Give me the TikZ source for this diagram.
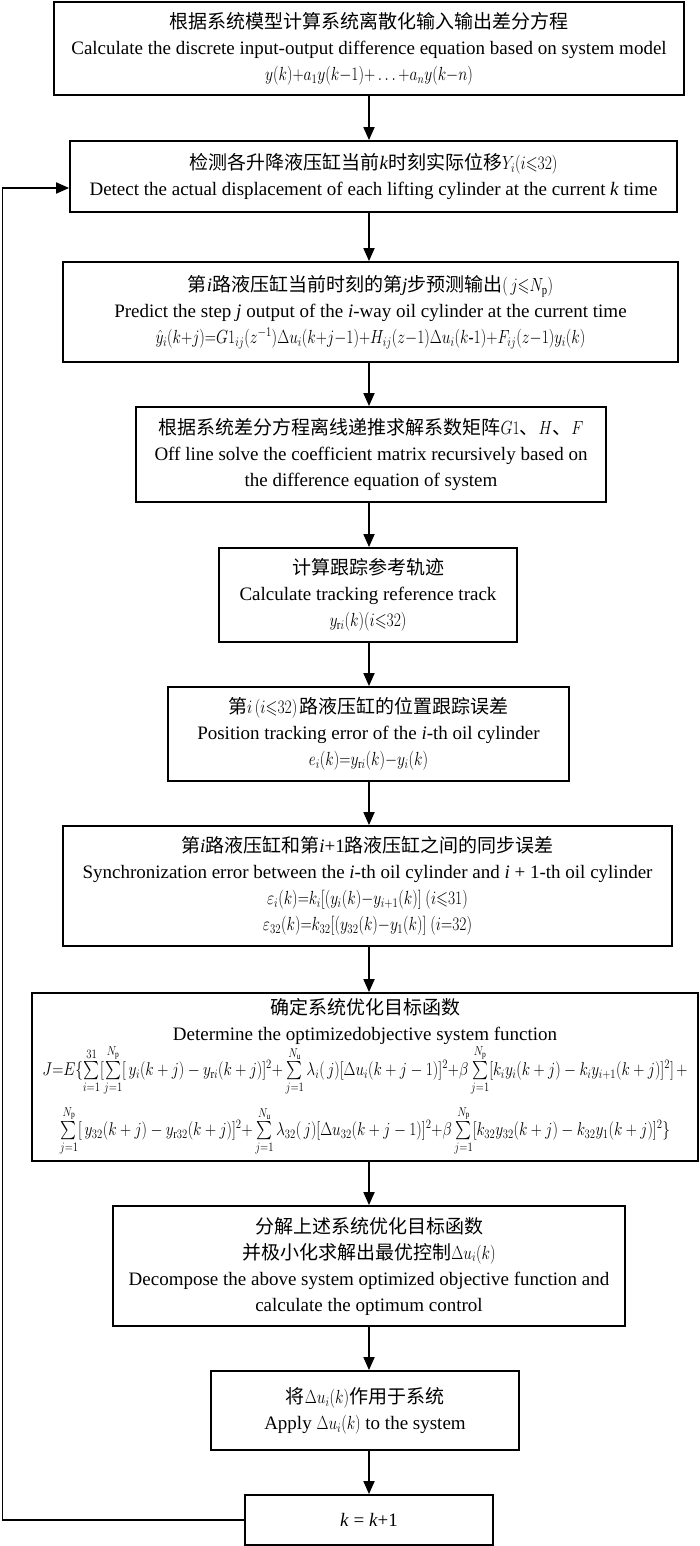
\documentclass[tikz,border=0pt]{standalone}
\usepackage{amsmath}
\usepackage{amssymb}
\usepackage{graphicx}
\usepackage{fontspec}
\setmainfont{Liberation Serif}
\newfontfamily\cjk{Noto Sans CJK SC}
\usetikzlibrary{arrows.meta}
\newcommand{\zh}[1]{{\cjk #1}}
\newcommand{\fm}[1]{\scalebox{0.9}[1.1]{\fontsize{17}{26}\selectfont$#1$}}
\begin{document}
\begin{tikzpicture}[x=1pt,y=-1pt,
  box/.style={draw, line width=1.8pt, align=center, inner sep=0pt,
    font=\fontsize{19}{26}\selectfont},
  arr/.style={line width=1.8pt, -{Triangle[length=13pt,width=11pt]}}]
\useasboundingbox (0,0) rectangle (700,1546);
\coordinate (ax) at (369,0);

\node[box, minimum width=630pt, minimum height=93pt] (b1) at (369,48.5)
 {\zh{根据系统模型计算系统离散化输入输出差分方程}\\
  Calculate the discrete input-output difference equation based on system model\\
  \fm{y(k){+}a_1y(k{-}1){+}\ldots{+}a_ny(k{-}n)}};

\node[box, minimum width=607pt, minimum height=71pt] (b2) at (373.5,176.5)
 {\zh{检测各升降液压缸当前}\textit{k}\zh{时刻实际位移}\fm{Y_i(i{\leqslant}32)}\\
  Detect the actual displacement of each lifting cylinder at the current \textit{k} time};

\node[box, minimum width=615pt, minimum height=100pt] (b3) at (370.5,312)
 {\zh{第}\textit{i}\zh{路液压缸当前时刻的第}\textit{j}\zh{步预测输出}\fm{(\,j{\leqslant}N_\mathrm{p})}\\
  Predict the step \textit{j} output of the \textit{i}-way oil cylinder at the current time\\
  \fm{\hat y_i(k{+}j){=}G1_{ij}(z^{-1})\Delta u_i(k{+}j{-}1){+}H_{ij}(z{-}1)\Delta u_i(k\text{-}1){+}F_{ij}(z{-}1)y_i(k)}};

\node[box, minimum width=470pt, minimum height=95pt] (b4) at (371,454.5)
 {\zh{根据系统差分方程离线递推求解系数矩阵}\fm{G1}\zh{、}\fm{H}\zh{、}\fm{F}\\
  Off line solve the coefficient matrix recursively based on\\
  the difference equation of system};

\node[box, minimum width=298pt, minimum height=94pt] (b5) at (368,595)
 {\zh{计算跟踪参考轨迹}\\
  Calculate tracking reference track\\
  \fm{y_{\mathrm{r}i}(k)(i{\leqslant}32)}};

\node[box, minimum width=401pt, minimum height=94pt] (b6) at (368.5,734)
 {\zh{第}\fm{i\,(i{\leqslant}32)\,}\zh{路液压缸的位置跟踪误差}\\
  Position tracking error of the \textit{i}-th oil cylinder\\
  \fm{e_i(k){=}y_{\mathrm{r}i}(k){-}y_i(k)}};

\node[box, minimum width=609pt, minimum height=120pt] (b7) at (367.5,886)
 {\zh{第}\textit{i}\zh{路液压缸和第}\textit{i}+1\zh{路液压缸之间的同步误差}\\
  Synchronization error between the \textit{i}-th oil cylinder and \textit{i} + 1-th oil cylinder\\
  \fm{\varepsilon_i(k){=}k_i[(y_i(k){-}y_{i+1}(k)]\ (i{\leqslant}31)}\\
  \fm{\varepsilon_{32}(k){=}k_{32}[(y_{32}(k){-}y_1(k)]\ (i{=}32)}};

\node[box, minimum width=666pt, minimum height=168pt] (b8) at (365,1077)
 {\zh{确定系统优化目标函数}\\
  Determine the optimizedobjective system function\\
  \scalebox{1}[1.2]{\resizebox{645pt}{!}{\fontsize{17}{20}\selectfont\begin{tabular}{@{}c@{}}
  $J{=}E\{\sum\limits_{i=1}^{31}[\sum\limits_{j=1}^{N_\mathrm{p}}[\,y_i(k+j)-y_{\mathrm{r}i}(k+j)]^2{+}\sum\limits_{j=1}^{N_\mathrm{u}}\lambda_i(\,j)[\Delta u_i(k+j-1)]^2{+}\beta\sum\limits_{j=1}^{N_\mathrm{p}}[k_iy_i(k+j)-k_iy_{i+1}(k+j)]^2]\,{+}$\\[22pt]
  $\sum\limits_{j=1}^{N_\mathrm{p}}[\,y_{32}(k+j)-y_{\mathrm{r}32}(k+j)]^2{+}\sum\limits_{j=1}^{N_\mathrm{u}}\lambda_{32}(\,j)[\Delta u_{32}(k+j-1)]^2{+}\beta\sum\limits_{j=1}^{N_\mathrm{p}}[k_{32}y_{32}(k+j)-k_{32}y_1(k+j)]^2\}$
  \end{tabular}}}};

\node[box, minimum width=512pt, minimum height=120pt] (b9) at (369,1266)
 {\zh{分解上述系统优化目标函数}\\
  \zh{并极小化求解出最优控制}\fm{\Delta u_i(k)}\\
  Decompose the above system optimized objective function and\\
  calculate the optimum control};

\node[box, minimum width=308pt, minimum height=79pt] (b10) at (365,1410.5)
 {\zh{将}\fm{\Delta u_i(k)}\zh{作用于系统}\\
  Apply \fm{\Delta u_i(k)} to the system};

\node[box, minimum width=248pt, minimum height=50pt] (b11) at (369,1520)
 {\textit{k} = \textit{k}+1};

\foreach \a/\b in {b1/b2,b2/b3,b3/b4,b4/b5,b5/b6,b6/b7,b7/b8,b8/b9,b9/b10,b10/b11}
  \draw[arr] (\a.south -| ax) -- (\b.north -| ax);

\coordinate (lb) at (2.5,1520);
\coordinate (lt) at (2.5,188);
\draw[arr] (b11.west) -- (lb) -- (lt) -- (b2.west |- lt);
\end{tikzpicture}
\end{document}
